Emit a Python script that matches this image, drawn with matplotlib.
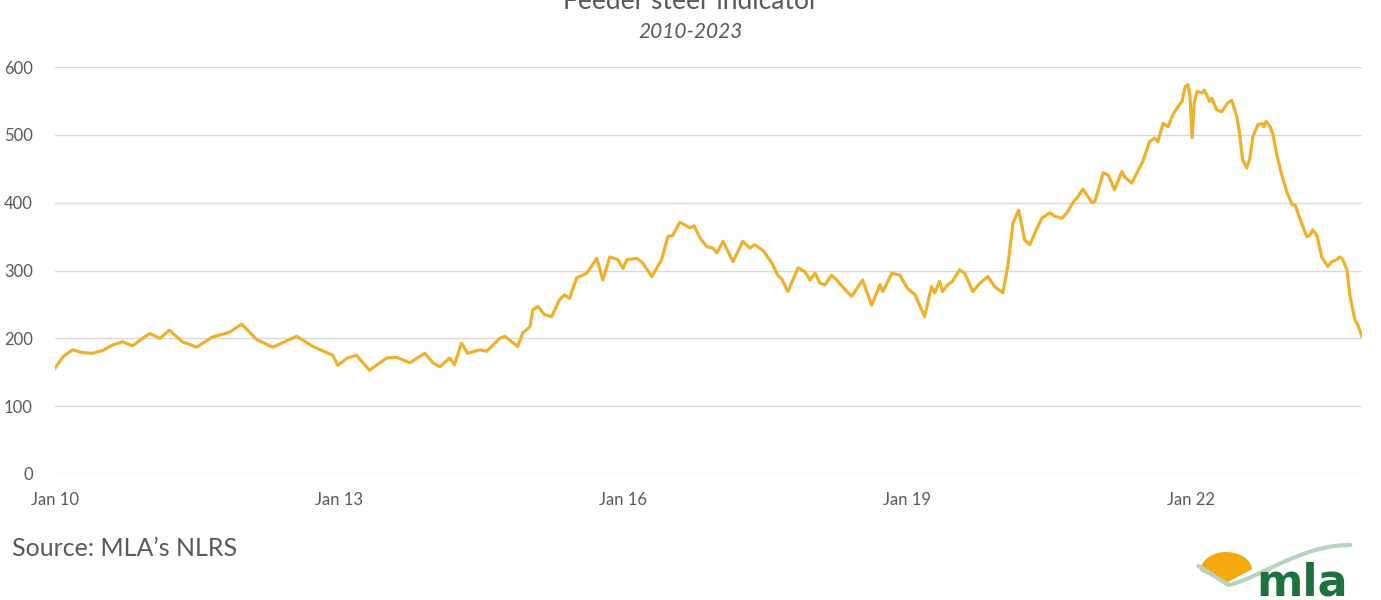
import numpy as np
import pandas as pd
import matplotlib
matplotlib.use("Agg")
import matplotlib.pyplot as plt
import matplotlib.dates as mdates
from matplotlib.patches import Polygon

# feeder steer indicator, c/kg lwt
dates = [
    "2010-01-01", "2010-02-01", "2010-03-10", "2010-04-17", "2010-05-25", "2010-07-03",
    "2010-08-11", "2010-09-19", "2010-10-27", "2010-12-05", "2011-01-02", "2011-02-10",
    "2011-03-18", "2011-05-07", "2011-07-01", "2011-09-01", "2011-11-06", "2011-12-22",
    "2012-02-19", "2012-04-20", "2012-06-05", "2012-07-21", "2012-09-22", "2012-12-08",
    "2012-12-27", "2013-02-01", "2013-03-09", "2013-04-28", "2013-07-03", "2013-08-11",
    "2013-10-01", "2013-11-28", "2013-12-29", "2014-01-25", "2014-03-03", "2014-03-22",
    "2014-04-18", "2014-05-11", "2014-06-27", "2014-07-24", "2014-09-13", "2014-10-02",
    "2014-11-21", "2014-12-10", "2015-01-07", "2015-01-18", "2015-02-07", "2015-03-04",
    "2015-04-01", "2015-05-01", "2015-05-20", "2015-06-09", "2015-07-06", "2015-08-14",
    "2015-09-22", "2015-10-15", "2015-11-11", "2015-12-12", "2016-01-01", "2016-01-16",
    "2016-02-24", "2016-03-17", "2016-04-21", "2016-05-29", "2016-06-22", "2016-07-11",
    "2016-08-07", "2016-09-15", "2016-10-01", "2016-10-24", "2016-11-20", "2016-12-13",
    "2016-12-28", "2017-01-21", "2017-02-28", "2017-04-07", "2017-05-04", "2017-05-23",
    "2017-06-23", "2017-07-28", "2017-08-20", "2017-09-05", "2017-09-28", "2017-11-06",
    "2017-12-03", "2017-12-22", "2018-01-11", "2018-01-30", "2018-02-18", "2018-03-15",
    "2018-04-04", "2018-05-13", "2018-06-01", "2018-07-13", "2018-08-17", "2018-09-18",
    "2018-09-29", "2018-11-03", "2018-12-04", "2019-01-01", "2019-02-01", "2019-03-09",
    "2019-04-05", "2019-04-17", "2019-05-06", "2019-05-17", "2019-06-06", "2019-06-25",
    "2019-07-22", "2019-08-11", "2019-09-11", "2019-10-08", "2019-11-08", "2019-12-05",
    "2020-01-05", "2020-01-24", "2020-02-13", "2020-03-06", "2020-03-29", "2020-04-18",
    "2020-05-07", "2020-06-03", "2020-07-04", "2020-07-23", "2020-08-20", "2020-09-08",
    "2020-10-01", "2020-10-17", "2020-11-09", "2020-12-14", "2020-12-25", "2021-01-26",
    "2021-02-14", "2021-03-11", "2021-04-08", "2021-04-19", "2021-05-16", "2021-06-08",
    "2021-06-28", "2021-07-24", "2021-08-13", "2021-08-25", "2021-09-14", "2021-10-03",
    "2021-10-22", "2021-11-11", "2021-11-26", "2021-12-08", "2021-12-19", "2021-12-27",
    "2022-01-04", "2022-01-12", "2022-01-23", "2022-02-12", "2022-02-20", "2022-03-01",
    "2022-03-13", "2022-03-21", "2022-04-09", "2022-04-28", "2022-05-21", "2022-06-06",
    "2022-06-25", "2022-07-03", "2022-07-18", "2022-08-03", "2022-08-15", "2022-08-26",
    "2022-09-15", "2022-10-01", "2022-10-08", "2022-10-16", "2022-11-01", "2022-11-12",
    "2022-11-28", "2022-12-17", "2023-01-06", "2023-01-25", "2023-02-06", "2023-02-25",
    "2023-03-22", "2023-04-03", "2023-04-14", "2023-04-30", "2023-05-19", "2023-06-11",
    "2023-06-27", "2023-07-16", "2023-07-27", "2023-08-08", "2023-08-24", "2023-09-05",
    "2023-09-24", "2023-10-05", "2023-10-21",
]
values = [
    156, 173, 183, 179, 178, 182,
    190, 195, 189, 200, 207, 200,
    212, 195, 187, 202, 209, 221,
    198, 187, 195, 203, 188, 175,
    160, 171, 175, 153, 171, 172,
    164, 178, 164, 158, 171, 161,
    193, 178, 183, 181, 200, 203,
    188, 208, 217, 242, 247, 235,
    232, 257, 264, 259, 289, 296,
    318, 286, 320, 316, 303, 316,
    318, 311, 291, 316, 350, 352,
    371, 363, 366, 348, 335, 333,
    326, 343, 313, 343, 333, 338,
    330, 311, 293, 287, 269, 304,
    298, 286, 296, 281, 279, 293,
    286, 269, 262, 286, 249, 279,
    269, 296, 293, 274, 264, 232,
    276, 267, 284, 269, 279, 284,
    301, 296, 269, 281, 291, 276,
    267, 306, 370, 389, 345, 338,
    355, 377, 385, 380, 377, 385,
    400, 407, 420, 400, 402, 444,
    441, 419, 446, 438, 429, 446,
    461, 490, 495, 490, 517, 512,
    530, 542, 549, 571, 574, 556,
    496, 547, 564, 562, 566, 559,
    549, 554, 537, 534, 547, 551,
    527, 510, 463, 451, 466, 497,
    515, 517, 512, 520, 512, 500,
    468, 439, 414, 397, 396, 375,
    350, 352, 360, 352, 320, 306,
    313, 316, 320, 316, 301, 262,
    227, 220, 203,
]
tick_years = [2010, 2013, 2016, 2019, 2022]
y_ticks = [0, 100, 200, 300, 400, 500, 600]

x = pd.to_datetime(dates)
txt = '#595959'
plt.rcParams['font.family'] = ['Lato', 'DejaVu Sans']

fig = plt.figure(figsize=(13.81, 6), dpi=100)
ax = fig.add_axes([0.0398, 0.21, 0.9464, 0.6783])
ax.plot(x, values, color='#EFB12C', lw=2.3, solid_joinstyle='round')

ax.set_ylim(0, 600)
ax.set_yticks(y_ticks)
ax.set_xlim(x[0], x[-1])
ax.set_xticks([pd.Timestamp(f"{y}-01-01") for y in tick_years])
ax.xaxis.set_major_formatter(mdates.DateFormatter('Jan %y'))
ax.grid(axis='y', color='#D9D9D9', lw=1)
ax.set_axisbelow(True)
for s in ax.spines.values():
    s.set_visible(False)
ax.tick_params(axis='both', length=0, labelsize=12, labelcolor=txt)
ax.tick_params(axis='y', pad=16)
ax.tick_params(axis='x', pad=13)

fig.text(0.5, 0.985, 'Feeder steer indicator', ha='center', va='baseline',
         fontsize=19, color=txt)
fig.text(0.5, 0.946, '2010-2023', ha='center', va='center',
         fontsize=15, color=txt, style='italic')
fig.text(0.009, 0.085, 'Source: MLA\u2019s NLRS', ha='left', va='center',
         fontsize=18, color=txt)

# rough mla logo, coordinates in pixels from (1190, 600)
lg = fig.add_axes([0.862, 0.0, 0.128, 0.105])
lg.set_xlim(0, 177)
lg.set_ylim(0, 63)
lg.axis('off')
a = np.linspace(0, np.pi, 40)
dome = np.column_stack([36 + 26 * np.cos(a), 29 + 19 * np.sin(a)])
dome = np.vstack([dome, [[10, 29], [36, 17], [62, 31]]])
lg.add_patch(Polygon(dome, closed=True, color='#F4A90E', lw=0))
t = np.linspace(0, 1, 60)
sx = 38 + 122 * t
sy = 15 + 40 * np.sin(np.pi / 2 * t) ** 1.3
lg.plot(np.r_[8, sx], np.r_[34, sy], color='#B7D3BD', lw=3,
        solid_capstyle='round', solid_joinstyle='round')
lg.text(112, 4, 'mla', ha='center', va='baseline', fontsize=32, fontweight='bold',
        color='#1E7240', family='Liberation Sans Narrow')

fig.savefig('out.png', dpi=100)
